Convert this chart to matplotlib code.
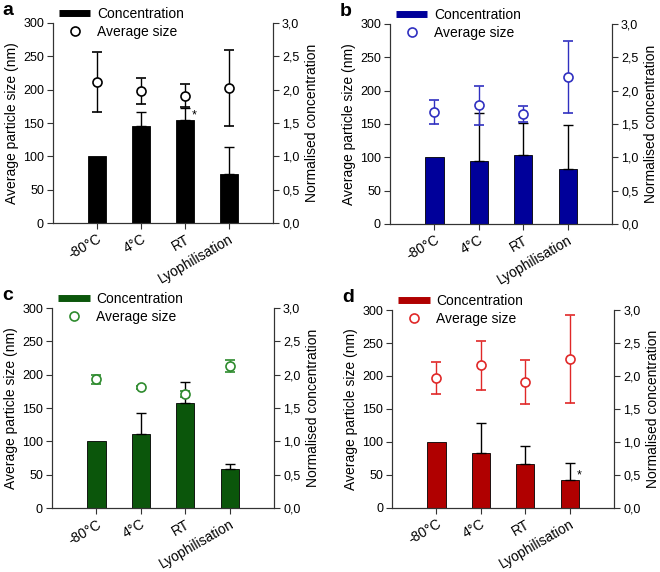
import matplotlib.pyplot as plt
from matplotlib.lines import Line2D
import numpy as np

plt.rcParams['font.family'] = ['Liberation Sans', 'DejaVu Sans']
plt.rcParams['font.size'] = 10

categories = ["-80°C", "4°C", "RT", "Lyophilisation"]

# concentration (normalised) and upper error
conc_a = [1.00, 1.46, 1.55, 0.74]
conc_err_a = [0.0, 0.21, 0.18, 0.40]
size_a = [211, 198, 191, 202]
size_err_a = [45, 19, 17, 57]

conc_b = [1.00, 0.94, 1.03, 0.83]
conc_err_b = [0.0, 0.73, 0.49, 0.65]
size_b = [168, 178, 165, 220]
size_err_b = [18, 29, 12, 54]

conc_c = [1.00, 1.11, 1.57, 0.59]
conc_err_c = [0.0, 0.32, 0.32, 0.07]
size_c = [193, 181, 171, 213]
size_err_c = [7, 2, 5, 9]

conc_d = [1.00, 0.83, 0.66, 0.42]
conc_err_d = [0.0, 0.46, 0.28, 0.26]
size_d = [197, 216, 191, 226]
size_err_d = [24, 37, 33, 67]

stars_a = [2]   # bars with significance mark
stars_d = [3]

panels = [
    ("a", conc_a, conc_err_a, size_a, size_err_a, "black", "black", stars_a,
     [0.0803, 0.6101, 0.3333, 0.3497]),
    ("b", conc_b, conc_err_b, size_b, size_err_b, "#00009a", "#3030c0", [],
     [0.5909, 0.6084, 0.3364, 0.3497]),
    ("c", conc_c, conc_err_c, size_c, size_err_c, "#0b560b", "#2e8b2e", [],
     [0.0788, 0.1115, 0.3364, 0.3500]),
    ("d", conc_d, conc_err_d, size_d, size_err_d, "#b00000", "#e02828", stars_d,
     [0.5940, 0.1120, 0.3364, 0.3460]),
]

fig = plt.figure(figsize=(6.6, 5.72), dpi=100)
x = np.arange(len(categories))
spine_col = "#333333"

for label, conc, cerr, size, serr, bcol, mcol, stars, pos in panels:
    ax = fig.add_axes(pos)
    ax2 = ax.twinx()

    ax2.bar(x, conc, width=0.41, color=bcol, edgecolor="black", linewidth=0.6)
    has_err = np.array(cerr) > 0
    ax2.errorbar(x[has_err], np.array(conc)[has_err],
                 yerr=[np.zeros(has_err.sum()), np.array(cerr)[has_err]], fmt="none",
                 ecolor="black", elinewidth=1, capsize=3.5, capthick=1)

    ax.errorbar(x, size, yerr=serr, fmt="o", color=mcol, mfc="white", mec=mcol,
                ms=6.5, mew=1.2, elinewidth=1, capsize=3.5, capthick=1)
    for i in stars:
        ax.text(x[i] + 0.21, (conc[i] + 0.07) * 100, "*", fontsize=9,
                ha="center", va="center", zorder=5)
    ax.set_zorder(ax2.get_zorder() + 1)
    ax.patch.set_visible(False)

    ax.set_ylim(0, 300)
    ax2.set_ylim(0, 3)
    ax.set_xlim(-1, 4)
    ax.set_yticks([0, 50, 100, 150, 200, 250, 300])
    ax2.set_yticks([0, 0.5, 1.0, 1.5, 2.0, 2.5, 3.0])
    ax2.set_yticklabels(["0,0", "0,5", "1,0", "1,5", "2,0", "2,5", "3,0"])
    ax.set_xticks(x)
    ax.set_xticklabels(categories, rotation=30, ha="right", rotation_mode="anchor",
                       fontsize=10)
    for a in (ax, ax2):
        a.spines["top"].set_visible(False)
        for s in ("left", "right", "bottom"):
            a.spines[s].set_color(spine_col)
            a.spines[s].set_linewidth(0.8)
        a.tick_params(direction="out", length=4, width=0.8, pad=2.5, color=spine_col)
        a.tick_params(axis="y", labelsize=9)
    ax.set_ylabel("Average particle size (nm)", fontsize=10, labelpad=3)
    ax2.set_ylabel("Normalised concentration", fontsize=10, labelpad=4)

    handles = [Line2D([0], [0], color=bcol, lw=5, solid_capstyle="butt"),
               Line2D([0], [0], ls="none", marker="o", mfc="white", mec=mcol, ms=6.5, mew=1.2)]
    ax.legend(handles, ["Concentration", "Average size"], loc="upper left",
              bbox_to_anchor=(0.0, 1.11), frameon=False, handlelength=2.3,
              handletextpad=0.5, labelspacing=0.3, borderaxespad=0, fontsize=10)

    fig.text(pos[0] - 0.076, pos[1] + pos[3] + 0.014, label, fontsize=14,
             fontweight="bold", va="baseline", ha="left")

fig.savefig("out.png", dpi=100)
